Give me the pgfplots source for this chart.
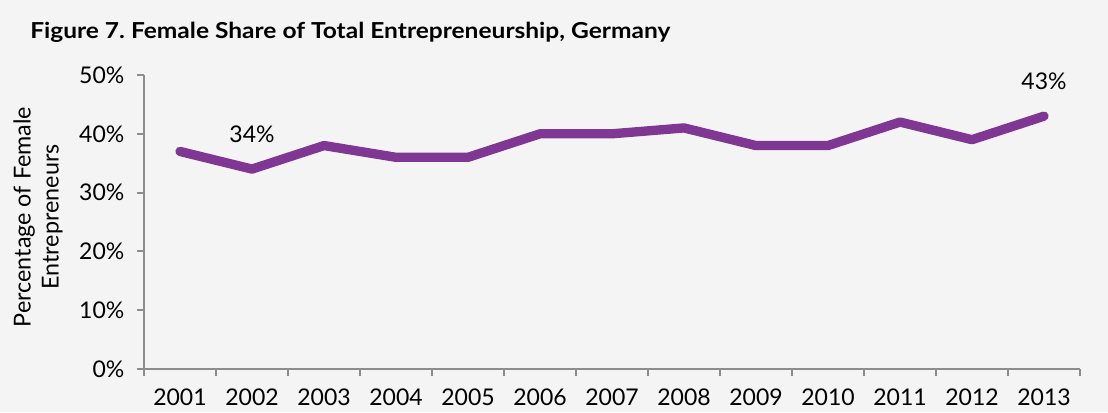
\documentclass[border=0pt]{standalone}
\usepackage{fontspec}
\setmainfont{Lato}
\usepackage{pgfplots}
\pgfplotsset{compat=1.18}
\definecolor{bg}{HTML}{F4F4F4}
\definecolor{linep}{RGB}{127,55,147}
\definecolor{axisgray}{HTML}{8C8C8C}
\frenchspacing
\begin{document}
\begin{tikzpicture}[x=0.75pt,y=0.75pt]
\fill[bg] (0,0) rectangle (1108,412);
\node[anchor=base west, inner sep=0pt, font=\bfseries\fontsize{16.5}{18}\selectfont] at (30,374) {\scalebox{1.115}[1]{Figure 7. Female Share of Total Entrepreneurship, Germany}};
\node[rotate=90, align=center, inner sep=0pt, font=\fontsize{17.5}{21}\selectfont] at (38,195) {Percentage of Female\\Entrepreneurs};
\begin{axis}[
  at={(108pt,32.25pt)}, anchor=south west,
  scale only axis, width=702pt, height=220.5pt,
  xmin=0.5, xmax=13.5, ymin=0, ymax=50,
  axis lines*=left,
  axis line style={-, draw=axisgray, line width=1.5pt},
  xtick={1,...,13},
  xticklabels={2001,2002,2003,2004,2005,2006,2007,2008,2009,2010,2011,2012,2013},
  major x tick style={draw=none},
  minor xtick={0.5,1.5,...,13.5},
  ytick={0,10,20,30,40,50},
  yticklabel={\pgfmathprintnumber{\tick}\%},
  tick align=outside,
  major tick length=5.25pt,
  minor tick length=5.25pt,
  tick style={axisgray, line width=1.5pt},
  ticklabel style={font=\fontsize{17.25}{20}\selectfont, text=black},
  /pgf/number format/assume math mode=true,
  x tick label style={yshift=-6pt},
  y tick label style={xshift=-6pt},
  clip=false,
]
\addplot[linep, line width=7pt, line cap=round, line join=round] coordinates {
(1,37) (2,34) (3,38) (4,36) (5,36) (6,40) (7,40) (8,41) (9,38) (10,38) (11,42) (12,39) (13,43)
};
\addplot[draw=none, point meta=explicit symbolic, nodes near coords,
  every node near coord/.append style={font=\fontsize{17.25}{20}\selectfont, text=black, anchor=center, yshift=26pt}]
 coordinates {(2,34) [34\%] (13,43) [43\%]};
\end{axis}
\end{tikzpicture}
\end{document}
